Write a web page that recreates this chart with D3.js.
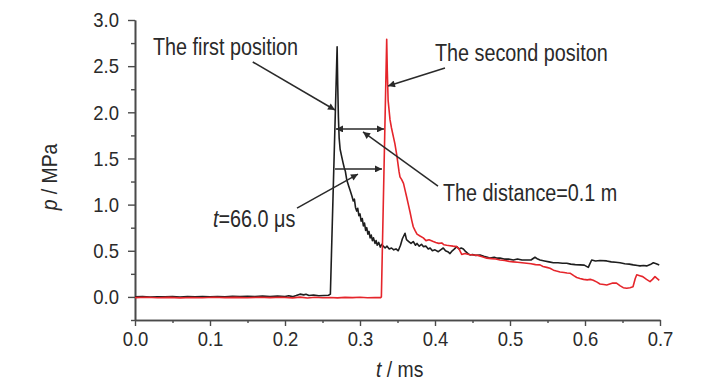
<!DOCTYPE html>
<html>
<head>
<meta charset="utf-8">
<script src="https://cdn.jsdelivr.net/npm/d3@7"></script>
<style>
  body { margin: 0; background: #fff; }
  svg text { font-family: "Liberation Sans", Arial, sans-serif; fill: #2a2a2a; }
</style>
</head>
<body>
<div id="chart"></div>
<script>
// Pressure records at the two gauge positions: [t (ms), p (MPa)]
const firstPosition = [
  [0.000,0.000],[0.010,0.003],[0.020,-0.002],[0.030,0.002],[0.040,0.000],[0.050,0.004],
  [0.060,-0.001],[0.070,0.003],[0.080,0.000],[0.090,0.004],[0.100,0.002],[0.110,0.005],
  [0.120,0.001],[0.130,0.006],[0.140,0.003],[0.150,0.008],[0.160,0.004],[0.170,0.009],
  [0.180,0.005],[0.190,0.010],[0.200,0.004],[0.205,0.012],[0.210,0.003],[0.215,0.015],
  [0.220,0.030],[0.225,0.022],[0.228,0.028],[0.232,0.015],[0.238,0.020],[0.245,0.012],
  [0.252,0.015],[0.258,0.018],[0.2605,0.030],
  [0.2695,2.71],[0.2703,2.30],[0.2712,1.95],[0.2722,1.72],[0.2735,1.60],[0.2756,1.52],
  [0.2775,1.45],[0.2790,1.40],[0.2805,1.36],[0.2823,1.27],[0.2850,1.20],[0.2870,1.15],
  [0.2893,1.09],[0.2910,1.04],[0.2925,1.06],[0.2940,0.97],[0.2956,0.93],[0.2970,0.96],
  [0.2985,0.88],[0.3000,0.90],[0.3015,0.82],[0.3030,0.85],[0.3045,0.77],[0.3060,0.80],
  [0.3075,0.72],[0.3090,0.75],[0.3105,0.68],[0.3120,0.71],[0.3135,0.64],[0.3150,0.67],
  [0.3165,0.61],[0.3180,0.64],[0.3200,0.58],[0.3215,0.61],[0.3230,0.56],[0.3250,0.59],
  [0.3270,0.54],[0.3290,0.57],[0.3310,0.55],[0.3335,0.53],[0.3360,0.55],[0.3390,0.52],
  [0.3420,0.53],[0.3450,0.51],[0.3480,0.52],[0.3510,0.50],[0.3540,0.56],[0.3565,0.63],
  [0.3600,0.69],[0.3620,0.62],[0.3650,0.60],[0.3680,0.58],[0.3710,0.60],[0.3740,0.56],
  [0.3760,0.58],[0.3790,0.55],[0.3820,0.57],[0.3844,0.545],[0.3880,0.55],[0.3910,0.52],
  [0.3935,0.53],[0.3965,0.50],[0.4000,0.51],[0.4044,0.49],[0.4075,0.51],[0.4110,0.53],
  [0.4140,0.50],[0.4170,0.49],[0.4200,0.47],[0.4230,0.50],[0.4260,0.52],[0.4290,0.545],
  [0.4320,0.52],[0.4350,0.53],[0.4378,0.52],[0.4410,0.49],[0.4440,0.47],[0.4467,0.455],
  [0.4500,0.46],[0.4540,0.45],[0.4600,0.455],[0.4650,0.44],[0.4700,0.43],[0.4733,0.42],
  [0.4790,0.43],[0.4830,0.42],[0.4867,0.42],[0.4920,0.41],[0.4980,0.41],[0.5044,0.40],
  [0.5100,0.41],[0.5160,0.40],[0.5222,0.40],[0.5280,0.40],[0.5333,0.43],[0.5370,0.41],
  [0.5400,0.40],[0.5460,0.39],[0.5520,0.38],[0.5578,0.37],[0.5640,0.37],[0.5700,0.365],
  [0.5756,0.365],[0.5810,0.355],[0.5870,0.35],[0.5933,0.347],[0.5990,0.345],[0.6044,0.32],
  [0.6060,0.35],[0.6089,0.40],[0.6140,0.39],[0.6200,0.395],[0.6289,0.39],[0.6350,0.38],
  [0.6410,0.375],[0.6467,0.37],[0.6530,0.36],[0.6590,0.355],[0.6644,0.347],[0.6700,0.34],
  [0.6733,0.336],[0.6780,0.34],[0.6822,0.336],[0.6870,0.35],[0.6911,0.37],[0.6950,0.36],
  [0.6990,0.347]
];

const secondPosition = [
  [0.000,-0.008],[0.015,-0.004],[0.030,-0.009],[0.045,-0.005],[0.060,-0.010],[0.075,-0.006],
  [0.090,-0.009],[0.105,-0.004],[0.120,-0.008],[0.135,-0.005],[0.150,-0.009],[0.165,-0.004],
  [0.180,-0.008],[0.195,-0.003],[0.210,-0.010],[0.220,-0.002],[0.230,-0.012],[0.240,-0.004],
  [0.250,-0.009],[0.260,-0.006],[0.270,-0.010],[0.280,-0.005],[0.290,-0.008],[0.300,-0.004],
  [0.310,-0.009],[0.320,-0.006],[0.3275,-0.008],[0.3285,0.000],
  [0.3356,2.79],[0.3364,2.45],[0.3375,2.13],[0.3400,1.92],[0.3420,1.83],[0.3444,1.74],
  [0.3465,1.66],[0.3490,1.54],[0.3505,1.45],[0.3520,1.36],[0.3533,1.30],[0.3556,1.27],
  [0.3580,1.23],[0.3600,1.16],[0.3623,1.08],[0.3645,1.00],[0.3667,0.92],[0.3690,0.83],
  [0.3710,0.76],[0.3733,0.72],[0.3760,0.68],[0.3800,0.66],[0.3844,0.64],[0.3880,0.61],
  [0.3920,0.62],[0.3977,0.60],[0.4010,0.59],[0.4050,0.58],[0.4090,0.585],[0.4120,0.565],
  [0.4156,0.56],[0.4200,0.555],[0.4240,0.55],[0.4289,0.545],[0.4320,0.52],[0.4356,0.46],
  [0.4400,0.47],[0.4450,0.46],[0.4510,0.455],[0.4570,0.45],[0.4630,0.435],[0.4690,0.42],
  [0.4750,0.415],[0.4810,0.41],[0.4867,0.40],[0.4930,0.395],[0.4990,0.385],[0.5044,0.38],
  [0.5100,0.375],[0.5160,0.37],[0.5222,0.365],[0.5280,0.36],[0.5340,0.35],[0.5400,0.347],
  [0.5440,0.33],[0.5490,0.32],[0.5533,0.31],[0.5580,0.29],[0.5620,0.28],[0.5667,0.27],
  [0.5720,0.265],[0.5760,0.26],[0.5800,0.257],[0.5850,0.23],[0.5890,0.21],[0.5933,0.20],
  [0.5980,0.19],[0.6030,0.185],[0.6070,0.19],[0.6110,0.18],[0.6160,0.16],[0.6200,0.14],
  [0.6250,0.135],[0.6290,0.13],[0.6330,0.14],[0.6370,0.15],[0.6420,0.15],[0.6470,0.12],
  [0.6510,0.10],[0.6556,0.094],[0.6600,0.10],[0.6640,0.11],[0.6670,0.20],[0.6690,0.24],
  [0.6730,0.23],[0.6770,0.22],[0.6820,0.19],[0.6867,0.166],[0.6900,0.19],[0.6933,0.22],
  [0.6960,0.20],[0.6990,0.18]
];

const xTicks = [0, 0.1, 0.2, 0.3, 0.4, 0.5, 0.6, 0.7];
const xMinorTicks = [0.05, 0.15, 0.25, 0.35, 0.45, 0.55, 0.65];
const yTicks = [0, 0.5, 1.0, 1.5, 2.0, 2.5, 3.0];
const yMinorTicks = [-0.25, 0.25, 0.75, 1.25, 1.75, 2.25, 2.75];

// Annotation arrows in data units: from [t,p] to [t,p]
const arrows = [
  { from: [0.157, 2.545], to: [0.2667, 2.025] },
  { from: [0.4133, 2.48], to: [0.3373, 2.285] },
  { from: [0.268, 1.82], to: [0.332, 1.82], both: true },
  { from: [0.2667, 1.386], to: [0.3293, 1.386] },
  { from: [0.404, 1.20], to: [0.304, 1.787] },
  { from: [0.216, 0.963], to: [0.2973, 1.331] },
];
const labels = [
  { text: "The first position", at: [0.024, 2.62] },
  { text: "The second positon", at: [0.400, 2.56] },
  { text: "The distance=0.1 m", at: [0.4107, 1.04] },
  { text: "=66.0 \u03bcs", italic: "t", at: [0.104, 0.757] },
];

const W = 728, H = 390;
const x = d3.scaleLinear().domain([0, 0.7]).range([135, 660]);
const y = d3.scaleLinear().domain([-0.25, 3.0]).range([320, 20]);

const svg = d3.select("#chart").append("svg").attr("width", W).attr("height", H);

// squeeze text horizontally, the source uses a narrow Arial
function squeeze(sel, k) {
  sel.each(function () {
    const w = this.getComputedTextLength();
    d3.select(this).attr("textLength", w * k).attr("lengthAdjust", "spacingAndGlyphs");
  });
}

const axisColor = "#4a4a4a";

// x axis
const gx = svg.append("g").attr("transform", `translate(0,${y(-0.25)})`);
gx.call(d3.axisBottom(x).tickValues(xMinorTicks).tickSize(3).tickSizeOuter(0).tickFormat(""));
const gx2 = svg.append("g").attr("transform", `translate(0,${y(-0.25)})`);
gx2.call(d3.axisBottom(x).tickValues(xTicks).tickSize(6).tickSizeOuter(0).tickPadding(5).tickFormat(d3.format(".1f")));

// y axis
const gy = svg.append("g").attr("transform", `translate(${x(0)},0)`);
gy.call(d3.axisLeft(y).tickValues(yMinorTicks).tickSize(4).tickSizeOuter(0).tickFormat(""));
const gy2 = svg.append("g").attr("transform", `translate(${x(0)},0)`);
gy2.call(d3.axisLeft(y).tickValues(yTicks).tickSize(7).tickSizeOuter(0).tickPadding(9).tickFormat(d3.format(".1f")));

[gx, gx2, gy, gy2].forEach((g) => {
  g.selectAll("path.domain").attr("stroke", axisColor).attr("stroke-width", 1.6);
  g.selectAll(".tick line").attr("stroke", axisColor).attr("stroke-width", 1.4);
  g.selectAll(".tick text").attr("font-size", 21).attr("fill", "#2a2a2a")
    .style("font-family", '"Liberation Sans", Arial, sans-serif');
});
squeeze(gx2.selectAll(".tick text"), 0.88);
squeeze(gy2.selectAll(".tick text"), 0.88);

// axis titles
const xt = svg.append("text").attr("x", 376).attr("y", 377).attr("font-size", 22);
xt.append("tspan").attr("font-style", "italic").text("t");
xt.append("tspan").text(" / ms");
squeeze(xt, 0.88);

const yt = svg.append("text").attr("transform", "translate(57,177) rotate(-90)")
  .attr("text-anchor", "middle").attr("font-size", 22);
yt.append("tspan").attr("font-style", "italic").text("p");
yt.append("tspan").text(" / MPa");
squeeze(yt, 0.88);

// curves
const line = d3.line().x((d) => x(d[0])).y((d) => y(d[1]));
svg.append("path").datum(firstPosition).attr("fill", "none")
  .attr("stroke", "#1e1e1e").attr("stroke-width", 1.6).attr("stroke-linejoin", "round").attr("d", line);
svg.append("path").datum(secondPosition).attr("fill", "none")
  .attr("stroke", "#e5252b").attr("stroke-width", 1.6).attr("stroke-linejoin", "round").attr("d", line);

// arrowhead marker
svg.append("defs").append("marker")
  .attr("id", "arrowhead")
  .attr("viewBox", "0 0 10 10")
  .attr("refX", 10).attr("refY", 5)
  .attr("markerUnits", "userSpaceOnUse")
  .attr("markerWidth", 11).attr("markerHeight", 7)
  .attr("orient", "auto-start-reverse")
  .append("path").attr("d", "M0,0L10,5L0,10z").attr("fill", "#2a2a2a");

svg.selectAll(".arrow").data(arrows).enter().append("line")
  .attr("class", "arrow")
  .attr("x1", (d) => x(d.from[0])).attr("y1", (d) => y(d.from[1]))
  .attr("x2", (d) => x(d.to[0])).attr("y2", (d) => y(d.to[1]))
  .attr("stroke", "#2a2a2a").attr("stroke-width", 1.5)
  .attr("marker-end", "url(#arrowhead)")
  .attr("marker-start", (d) => (d.both ? "url(#arrowhead)" : null));

// annotation texts
labels.forEach((l) => {
  const t = svg.append("text").attr("x", x(l.at[0])).attr("y", y(l.at[1])).attr("font-size", 23);
  if (l.italic) t.append("tspan").attr("font-style", "italic").text(l.italic);
  t.append("tspan").text(l.text);
  squeeze(t, 0.86);
});
</script>
</body>
</html>
